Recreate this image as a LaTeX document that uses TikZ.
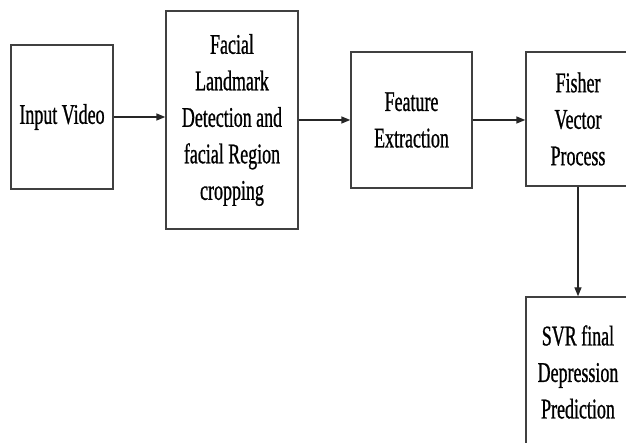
\documentclass[tikz,border=0pt]{standalone}
\usepackage{fontspec}
\setmainfont[FakeStretch=0.63,FakeBold=0.8]{Liberation Serif}
\usetikzlibrary{arrows.meta}
\begin{document}
\begin{tikzpicture}[x=1pt,y=-1pt,
  box/.style={draw=black!75, line width=1.4pt, fill=white, inner sep=0pt, align=center,
    font=\fontsize{28.5}{36.5}\selectfont},
  conn/.style={draw=black!85, line width=1.4pt, -{Triangle[length=9pt,width=7pt]}}]
\useasboundingbox (0,0) rectangle (626,443);
\clip (0,0) rectangle (626,443);
\node[box, minimum width=102pt, minimum height=144pt] (input) at (62,117) {Input Video};
\node[box, minimum width=132pt, minimum height=218pt] (facial) at (232,120) {Facial\\Landmark\\Detection and\\facial Region\\cropping};
\node[box, minimum width=121pt, minimum height=136pt] (feature) at (411.5,120) {Feature\\Extraction};
\node[box, minimum width=104pt, minimum height=134pt] (fisher) at (578,119) {Fisher\\Vector\\Process};
\node[box, minimum width=104pt, minimum height=150pt] (svr) at (578,372) {SVR final\\Depression\\Prediction};
\draw[conn] (input.east) -- (input.east -| facial.west);
\draw[conn] (facial.east) -- (facial.east -| feature.west);
\draw[conn] (feature.east) -- (feature.east -| fisher.west);
\draw[conn] (fisher.south) -- (svr.north);
\end{tikzpicture}
\end{document}
